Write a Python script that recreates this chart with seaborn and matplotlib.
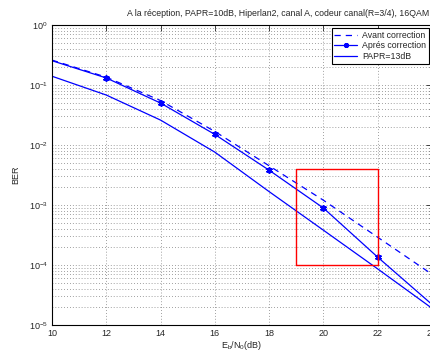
import numpy as np
import pandas as pd
import seaborn as sns
import matplotlib.pyplot as plt
from matplotlib.ticker import LogLocator, NullFormatter
from matplotlib.lines import Line2D

# Data
ebn0 = [10, 12, 14, 16, 18, 20, 22, 24]
ber_avant = [0.26, 0.135, 0.055, 0.0168, 0.0045, 0.0012, 0.00029, 0.00007]
ber_apres = [0.254, 0.131, 0.05, 0.015, 0.0038, 0.00089, 0.000135, 0.000022]
ber_papr13 = [0.14, 0.068, 0.026, 0.0076, 0.00167, 0.00038, 0.000086, 0.000019]
apres_marks = [12, 14, 16, 18, 20, 22]

# zoom rectangle (x range, y range)
box_x = [19, 22]
box_y = [1e-4, 4e-3]

title = "A la réception, PAPR=10dB, Hiperlan2, canal A, codeur canal(R=3/4), 16QAM"
labels = ["Avant correction", "Aprés correction", "PAPR=13dB"]

sns.set_style("white")
plt.rcParams['font.family'] = ['Liberation Sans', 'DejaVu Sans']
plt.rcParams['mathtext.fontset'] = 'custom'
plt.rcParams['mathtext.rm'] = 'Liberation Sans'
plt.rcParams['mathtext.it'] = 'Liberation Sans:italic'

fig = plt.figure(figsize=(4.3, 3.52), dpi=100)
W, H = 430, 352
ax = fig.add_axes([52 / W, 27 / H, 380 / W, 300 / H])

df = pd.DataFrame({"x": ebn0, "avant": ber_avant, "apres": ber_apres, "p13": ber_papr13})
blue = (0, 0, 1)
dash = (0, (5, 4))
asterisk = (6, 2, 0)

sns.lineplot(data=df, x="x", y="avant", ax=ax, color=blue, lw=0.9, linestyle=dash)
sns.lineplot(data=df, x="x", y="apres", ax=ax, color=blue, lw=0.9)
mk = df[df["x"].isin(apres_marks)]
sns.scatterplot(data=mk, x="x", y="apres", ax=ax, color=blue, marker=asterisk, s=14,
                linewidth=1.3, edgecolor=blue)
sns.lineplot(data=df, x="x", y="p13", ax=ax, color=blue, lw=0.9)

# red box
rx = [box_x[0], box_x[1], box_x[1], box_x[0], box_x[0]]
ry = [box_y[0], box_y[0], box_y[1], box_y[1], box_y[0]]
ax.plot(rx, ry, color='red', lw=1.0)

ax.set_yscale('log')
ax.set_xlim(10, 24)
ax.set_ylim(1e-5, 1)
ax.set_xticks([10, 12, 14, 16, 18, 20, 22, 24])
ax.yaxis.set_major_locator(LogLocator(base=10, numticks=10))
ax.yaxis.set_minor_locator(LogLocator(base=10, subs=np.arange(2, 10), numticks=20))
ax.yaxis.set_minor_formatter(NullFormatter())

gridstyle = dict(color='0.5', linestyle=(0, (1, 2.5)), lw=0.6)
ax.grid(True, which='major', **gridstyle)
ax.grid(True, which='minor', axis='y', **gridstyle)
ax.tick_params(which='both', direction='in', top=True, right=True, labelsize=6.5, pad=3)
ax.tick_params(which='major', length=4, width=0.6)
ax.tick_params(which='minor', length=2, width=0.5)
for s in ax.spines.values():
    s.set_color('black')
    s.set_linewidth(0.8)

ax.set_xlabel("E$_\\mathregular{b}$/N$_\\mathregular{0}$(dB)", fontsize=6.5, labelpad=0.5)
ax.set_ylabel("BER", fontsize=6.5, labelpad=6)
fig.text(278 / W, 1 - 13 / H, title, fontsize=6.3, ha='center', va='center')

handles = [
    Line2D([], [], color=blue, lw=0.9, linestyle=dash),
    Line2D([], [], color=blue, lw=0.9, marker=asterisk, markersize=3.5, markeredgewidth=1.3),
    Line2D([], [], color=blue, lw=0.9),
]
leg = ax.legend(handles, labels, loc='upper right', fontsize=6.3, frameon=True, fancybox=False,
                edgecolor='black', framealpha=1, borderpad=0.3, labelspacing=0.2,
                handlelength=2.6, handletextpad=0.6, borderaxespad=0.35)
leg.get_frame().set_linewidth(0.8)

fig.savefig("out.png", dpi=100)
